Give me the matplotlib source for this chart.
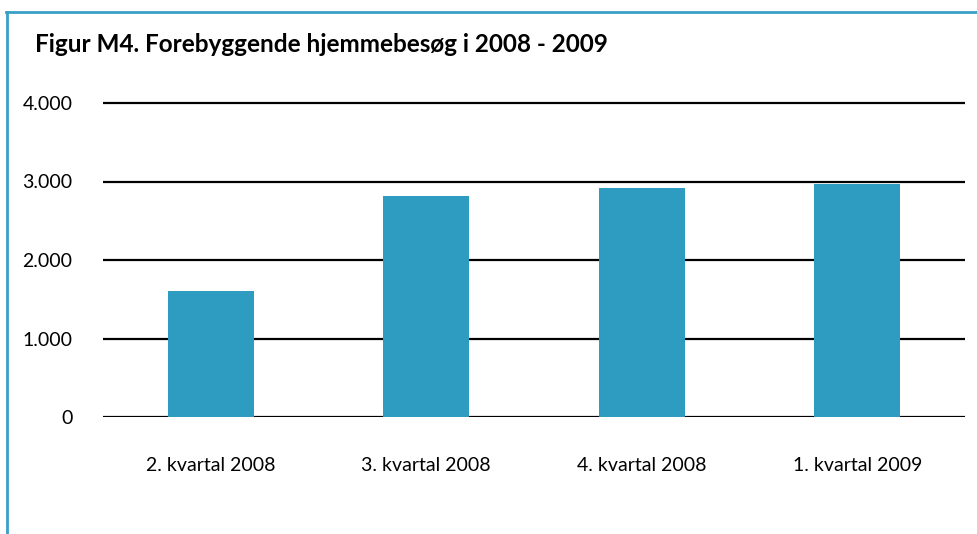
import matplotlib.pyplot as plt
from matplotlib.lines import Line2D
import numpy as np

plt.rcParams['font.family'] = ['Lato', 'DejaVu Sans']

kvartaler = ['2. kvartal 2008', '3. kvartal 2008', '4. kvartal 2008', '1. kvartal 2009']
besoeg = [1605, 2815, 2915, 2965]
y_ticks = [0, 1000, 2000, 3000, 4000]
y_labels = ['0', '1.000', '2.000', '3.000', '4.000']

bar_color = '#2e9bc1'
frame_color = '#3a9fc6'

W, H = 978, 534
fig = plt.figure(figsize=(W / 100, H / 100), dpi=100)

# akse: 0 ved y=417 px, 4000 ved y=103 px
px_per_unit = (417 - 103) / 4000
y_top = 4000 + 8 / px_per_unit
ax_top_px = 103 - 8
ax = fig.add_axes([103 / W, (H - 417) / H, (965 - 103) / W, (417 - ax_top_px) / H])

x = np.arange(len(kvartaler))
ax.bar(x, besoeg, width=0.4, color=bar_color, zorder=3)

for v in y_ticks:
    ax.axhline(v, color='black', lw=1.6, zorder=2)

ax.set_xlim(-0.5, len(kvartaler) - 0.5)
ax.set_ylim(0, y_top)
ax.set_yticks(y_ticks)
ax.set_yticklabels(y_labels)
ax.set_xticks(x)
ax.set_xticklabels(kvartaler)
ax.tick_params(axis='y', length=0, pad=22, labelsize=14)
ax.tick_params(axis='x', length=0, pad=29, labelsize=14)
for s in ax.spines.values():
    s.set_visible(False)

fig.text(35 / W, 1 - 45 / H, 'Figur M4. Forebyggende hjemmebesøg i 2008 - 2009',
         fontsize=17.5, fontweight='bold', ha='left', va='center')

# ramme øverst og til venstre
fig.add_artist(Line2D([7.5 / W, 7.5 / W], [0, 1 - 12 / H], color=frame_color, lw=2,
                      transform=fig.transFigure))
fig.add_artist(Line2D([6.5 / W, 1], [1 - 12 / H, 1 - 12 / H], color=frame_color, lw=2,
                      transform=fig.transFigure))

fig.savefig('out.png', dpi=100)
